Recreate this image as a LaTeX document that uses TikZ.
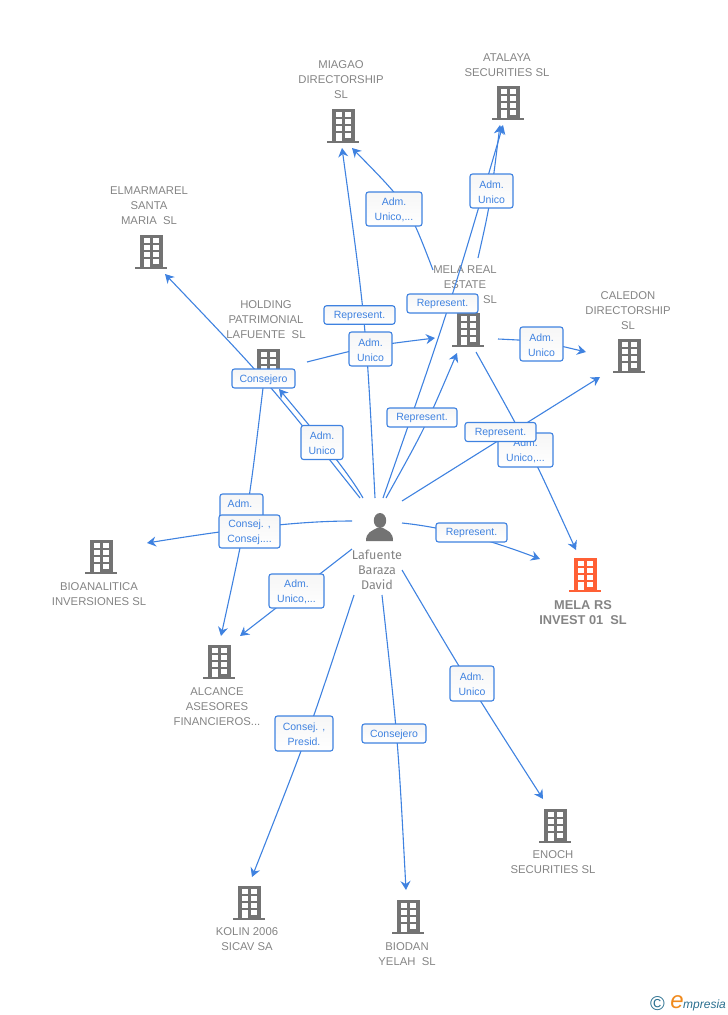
\documentclass[tikz,border=0pt]{standalone}
\usepackage{fontspec}
\setmainfont{Liberation Sans}
\newfontfamily\namefont{Fira Sans}
\usetikzlibrary{arrows.meta}
\definecolor{linkblue}{HTML}{3F82E0}
\definecolor{txtgray}{HTML}{848484}
\definecolor{bldgray}{HTML}{737373}
\definecolor{bldred}{HTML}{FF6035}
\definecolor{teal}{HTML}{2A6F8F}
\definecolor{orng}{HTML}{F08A1D}
\tikzset{
  conn/.style={draw=linkblue,line width=1.1pt,-{Stealth[length=9pt,width=10pt,inset=3pt]}},
  tag/.style={draw=linkblue,line width=1.1pt,rounded corners=2.5pt,top color=gray!7,bottom color=white,inner sep=0pt},
  tagtext/.style={text=linkblue,inner sep=0pt,align=center,font=\fontsize{10.5}{15}\selectfont},
  ent/.style={text=txtgray,align=center,inner sep=0pt,font=\fontsize{11.3}{15}\selectfont},
  entbold/.style={text=txtgray,align=center,inner sep=0pt,font=\bfseries\fontsize{12.8}{15}\selectfont},
  pers/.style={text=txtgray,align=center,inner sep=0pt,font=\namefont\fontsize{12.6}{15}\selectfont},
  bld/.pic={
    \fill[pic actions] (-11.5,0) rectangle (11.5,-32);
    \fill[pic actions] (-16,0) rectangle (16,2);
    \foreach \yy in {-29,-22,-15}{
      \fill[white] (-7,\yy) rectangle (-1.5,\yy+5);
      \fill[white] (2,\yy) rectangle (7.5,\yy+5);}
    \fill[white] (2,-8) rectangle (7.5,-3);
    \fill[white] (-7,-8) rectangle (-1.5,0);
  }
}
\newcommand{\tagbox}[6]{\node[tag,minimum width=#4pt,minimum height=#5pt] (#1) at (#2,#3) {};
  \node[tagtext] (#1txt) at ([yshift=-0.8pt]#1.center) {#6};}
\begin{document}
\begin{tikzpicture}[x=1pt,y=-1pt]
\useasboundingbox (0,0) rectangle (728,1015);
% anchors of the connectors
\coordinate (pMiagao) at (375,498);
\coordinate (inMiagaoA) at (342,148);
\coordinate (pAtalaya) at (383,498);
\coordinate (inAtalayaA) at (503,125);
\coordinate (pMela) at (386,498);
\coordinate (inMela) at (457,353);
\coordinate (pCaledon) at (402,501);
\coordinate (inCaledonA) at (600,377);
\coordinate (pRs) at (402,523);
\coordinate (inRsA) at (540,559);
\coordinate (melaS) at (476,352);
\coordinate (inRsB) at (576,550);
\coordinate (melaE) at (498,339);
\coordinate (inCaledonB) at (586,352);
\coordinate (melaN) at (433,270);
\coordinate (inMiagaoB) at (352,148);
\coordinate (melaT) at (478,258);
\coordinate (inAtalayaB) at (500,125);
\coordinate (holdE) at (307,362);
\coordinate (inMelaW) at (435,338);
\coordinate (pHold) at (363,498);
\coordinate (inHold) at (279,389);
\coordinate (pElm) at (360,498);
\coordinate (inElm) at (165,274);
\coordinate (holdS) at (263,388);
\coordinate (inAlcA) at (221,636);
\coordinate (pBio) at (352,521);
\coordinate (inBio) at (147,543);
\coordinate (pAlc) at (352,549);
\coordinate (inAlcB) at (240,636);
\coordinate (pKolin) at (354,595);
\coordinate (inKolin) at (252,877);
\coordinate (pBiodan) at (382,595);
\coordinate (inBiodan) at (406,890);
\coordinate (pEnoch) at (402,570);
\coordinate (inEnoch) at (543,799);
% buildings
\pic[fill=bldgray] at (343,141) {bld};
\pic[fill=bldgray] at (508,118) {bld};
\pic[fill=bldgray] at (151,267) {bld};
\pic[fill=bldgray] at (468,345) {bld};
\pic[fill=bldgray] at (629,371) {bld};
\pic[fill=bldred] at (585,590) {bld};
\pic[fill=bldgray] at (101,572) {bld};
\pic[fill=bldgray] at (219,677) {bld};
\pic[fill=bldgray] at (249,918) {bld};
\pic[fill=bldgray] at (408,932) {bld};
\pic[fill=bldgray] at (555,841) {bld};
\pic[fill=bldgray] at (268,381) {bld};
% entity names
\node[ent] (miagao) at (341,80) {MIAGAO\\DIRECTORSHIP\\SL};
\node[ent] (atalaya) at (507,65.5) {ATALAYA\\SECURITIES SL};
\node[ent] (elm) at (149,206) {ELMARMAREL\\SANTA\\MARIA~~SL};
\node[ent] (hold) at (266,320) {HOLDING\\PATRIMONIAL\\LAFUENTE~~SL};
\node[ent] (mela) at (465,285) {MELA REAL\\ESTATE\\\hphantom{INVEST 0}SL};
\node[ent] (caledon) at (628,311) {CALEDON\\DIRECTORSHIP\\SL};
\node[entbold] (melars) at (583,613) {MELA RS\\INVEST 01~~SL};
\node[ent] (bio) at (99,594.5) {BIOANALITICA\\INVERSIONES SL};
\node[ent] (alc) at (217,707) {ALCANCE\\ASESORES\\FINANCIEROS...};
\node[ent] (kolin) at (247,939.5) {KOLIN 2006\\SICAV SA};
\node[ent] (biodan) at (407,954.5) {BIODAN\\YELAH~~SL};
\node[ent] (enoch) at (553,862.5) {ENOCH\\SECURITIES SL};
\node[pers] (person) at (377,570) {Lafuente\\Baraza\\David};
% person icon
\fill[bldgray] (380,520.5) ellipse (6.2 and 7.5);
\fill[bldgray] (366,541) .. controls (366,532) and (372,531) .. (377,528) -- (383,528) .. controls (388,531) and (393,532) .. (393,541) -- cycle;
% connectors
\draw[conn] (pMiagao) .. controls (366,323) .. (inMiagaoA);
\draw[conn] (pAtalaya) .. controls (448,312) .. (inAtalayaA);
\draw[conn] (pMela) .. controls (425,428) .. (inMela);
\draw[conn] (pCaledon) -- (inCaledonA);
\draw[conn] (pRs) .. controls (450,528) and (495,542) .. (inRsA);
\draw[conn] (melaS) .. controls (528,445) .. (inRsB);
\draw[conn] (melaE) .. controls (540,341) .. (inCaledonB);
\draw[conn] (melaN) .. controls (408,205) .. (inMiagaoB);
\draw[conn] (melaT) .. controls (490,205) .. (inAtalayaB);
\draw[conn] (holdE) .. controls (370,346) .. (inMelaW);
\draw[conn] (pHold) .. controls (350,475) and (320,438) .. (inHold);
\draw[conn] (pElm) .. controls (268,382) .. (inElm);
\draw[conn] (holdS) .. controls (248,513) .. (inAlcA);
\draw[conn] (pBio) .. controls (300,521) and (240,528) .. (inBio);
\draw[conn] (pAlc) -- (inAlcB);
\draw[conn] (pKolin) .. controls (308,735) .. (inKolin);
\draw[conn] (pBiodan) .. controls (398,740) .. (inBiodan);
\draw[conn] (pEnoch) .. controls (468,682) .. (inEnoch);
% labels
\tagbox{t1}{359.5}{315}{71}{18.5}{Represent.}
\tagbox{t2}{370.5}{349}{43}{34}{Adm.\\Unico}
\tagbox{t3}{442.5}{303.5}{71}{19}{Represent.}
\tagbox{t4}{263.5}{378.5}{63}{19}{Consejero}
\tagbox{t5}{422}{417.5}{70}{19}{Represent.}
\tagbox{t6}{322}{442.5}{42}{34}{Adm.\\Unico}
\tagbox{t7}{525.5}{450}{55}{34}{Adm.\\Unico,...}
\tagbox{t8}{500.5}{432}{71}{19}{Represent.}
\tagbox{t9}{541.5}{344}{43}{34}{Adm.\\Unico}
\tagbox{t10}{491.5}{191}{43}{34}{Adm.\\Unico}
\tagbox{t11}{394}{209}{56}{34}{Adm.\\Unico,...}
\node[tag,minimum width=43pt,minimum height=34pt] (t12) at (241.5,511) {};
\node[tagtext] (t12txt) at (240,504) {Adm.};
\tagbox{t13}{249.5}{531.5}{61}{33}{Consej. ,\\Consej....}
\tagbox{t14}{471.5}{532.5}{71}{19}{Represent.}
\tagbox{t15}{296.5}{591}{55}{34}{Adm.\\Unico,...}
\tagbox{t16}{472}{683.5}{44}{35}{Adm.\\Unico}
\tagbox{t17}{304}{733.5}{58}{35}{Consej. ,\\Presid.}
\tagbox{t18}{394}{733.5}{64}{19}{Consejero}
% logo
\node[text=teal,inner sep=0pt,font=\fontsize{20}{20}\selectfont] (copy) at (657.5,1004) {©};
\node[text=orng,inner sep=0pt,font=\itshape\fontsize{24}{24}\selectfont] (logoe) at (677,1002) {e};
\node[text=teal,inner sep=0pt,anchor=west,font=\itshape\fontsize{12}{12}\selectfont] (logot) at (683,1005) {mpresia};
\end{tikzpicture}
\end{document}
